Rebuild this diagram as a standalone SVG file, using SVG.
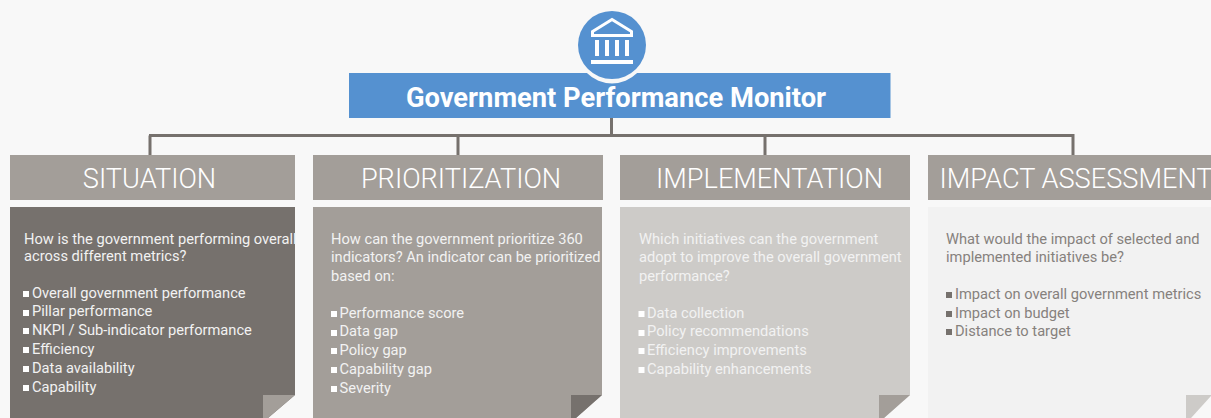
<svg xmlns="http://www.w3.org/2000/svg" width="1211" height="418" viewBox="0 0 1211 418">
<style>
text{font-family:Roboto,"Liberation Sans",sans-serif}
.hdr{fill:#a39e99}
.ht{font-size:27.2px;fill:#fff;text-anchor:middle;font-weight:300}
.b{font-size:14.67px}
.cut{fill:#f8f8f8}
.l{fill:#fff}
.d{fill:#76716d}
.conn{stroke:#76716d;stroke-width:3;fill:none}
</style>
<rect width="1211" height="418" fill="#f8f8f8"/>
<g id="connectors">
<path class="conn" d="M611.5 118V135.500M149 135.500H1074.500M150 135.500V155M458 135.500V155M765 135.500V155M1073 135.500V155"/>
</g>
<g id="root">
<rect x="349" y="73" width="541.500" height="45" fill="#5591d0"/>
<circle cx="612" cy="48" r="35.500" fill="#f8f8f8"/>
<circle cx="612" cy="45" r="34" fill="#5591d0"/>
<path d="M592.500 35.500V31.500L612 19.500L631.500 31.500V35.500Z" fill="none" stroke="#fff" stroke-width="3"/>
<g fill="#fff">
<rect x="595" y="40" width="4" height="16"/><rect x="605" y="40" width="4" height="16"/><rect x="615" y="40" width="4" height="16"/><rect x="625" y="40" width="4" height="16"/>
<rect x="591" y="60" width="42" height="4"/>
</g>
<text x="616" y="107" text-anchor="middle" font-size="27.300" font-weight="700" fill="#fff">Government Performance Monitor</text>
</g>
<g id="situation">
<rect class="hdr" x="10" y="155" width="285" height="45"/>
<text class="ht" x="149.500" y="188">SITUATION</text>
<rect x="10" y="207" width="285" height="211" fill="#76716d"/>
<path class="cut" d="M295 395V418H268Z"/>
<path d="M263 395H295L268 418H263Z" fill="#a39e99"/>
<g class="b" fill="#f2f2f2">
<text x="24" y="244">How is the government performing overall</text>
<text x="24" y="261">across different metrics?</text>
<text x="32" y="298">Overall government performance</text>
<text x="32" y="316">Pillar performance</text>
<text x="32" y="335">NKPI / Sub-indicator performance</text>
<text x="32" y="354">Efficiency</text>
<text x="32" y="373">Data availability</text>
<text x="32" y="392">Capability</text>
</g>
<g class="l"><rect x="23" y="291" width="6" height="6"/><rect x="23" y="310" width="6" height="6"/><rect x="23" y="328" width="6" height="6"/><rect x="23" y="347" width="6" height="6"/><rect x="23" y="366" width="6" height="6"/><rect x="23" y="385" width="6" height="6"/></g>
</g>
<g id="prioritization">
<rect class="hdr" x="313" y="155" width="290" height="45"/>
<text class="ht" x="461" y="188">PRIORITIZATION</text>
<rect x="313" y="207" width="289" height="211" fill="#a39e99"/>
<path class="cut" d="M602 395V418H576Z"/>
<path d="M571 395H602L576 418H571Z" fill="#76716d"/>
<g class="b" fill="#f2f2f2">
<text x="331" y="244">How can the government prioritize 360</text>
<text x="331" y="262">indicators? An indicator can be prioritized</text>
<text x="331" y="281">based on:</text>
<text x="339.500" y="318">Performance score</text>
<text x="339.500" y="336">Data gap</text>
<text x="339.500" y="355">Policy gap</text>
<text x="339.500" y="374">Capability gap</text>
<text x="339.500" y="393">Severity</text>
</g>
<g class="l"><rect x="331" y="311" width="6" height="6"/><rect x="331" y="330" width="6" height="6"/><rect x="331" y="348" width="6" height="6"/><rect x="331" y="367" width="6" height="6"/><rect x="331" y="386" width="6" height="6"/></g>
</g>
<g id="implementation">
<rect class="hdr" x="620" y="155" width="290" height="45"/>
<text class="ht" x="769.500" y="188">IMPLEMENTATION</text>
<rect x="620" y="207" width="290" height="211" fill="#cdcbc8"/>
<path class="cut" d="M910 395V418H884Z"/>
<path d="M879 395H910L884 418H879Z" fill="#a39e99"/>
<g class="b" fill="#f2f2f2">
<text x="639" y="244">Which initiatives can the government</text>
<text x="639" y="262">adopt to improve the overall government</text>
<text x="639" y="281">performance?</text>
<text x="647" y="318">Data collection</text>
<text x="647" y="336">Policy recommendations</text>
<text x="647" y="355">Efficiency improvements</text>
<text x="647" y="374">Capability enhancements</text>
</g>
<g class="l"><rect x="638.500" y="311" width="6" height="6"/><rect x="638.500" y="330" width="6" height="6"/><rect x="638.500" y="348" width="6" height="6"/><rect x="638.500" y="367" width="6" height="6"/></g>
</g>
<g id="impact">
<rect class="hdr" x="928" y="155" width="283" height="45"/>
<text class="ht" x="1076" y="188">IMPACT ASSESSMENT</text>
<rect x="928" y="207" width="283" height="211" fill="#f2f2f2"/>
<path class="cut" d="M1211 395V418H1191Z"/>
<path d="M1186 395H1211V396L1191 418H1186Z" fill="#cdcbc8"/>
<g class="b" fill="#86817d">
<text x="946" y="244">What would the impact of selected and</text>
<text x="946" y="262">implemented initiatives be?</text>
<text x="955" y="299">Impact on overall government metrics</text>
<text x="955" y="318">Impact on budget</text>
<text x="955" y="336">Distance to target</text>
</g>
<g class="d"><rect x="946" y="292" width="6" height="6"/><rect x="946" y="311" width="6" height="6"/><rect x="946" y="329" width="6" height="6"/></g>
</g>
</svg>
